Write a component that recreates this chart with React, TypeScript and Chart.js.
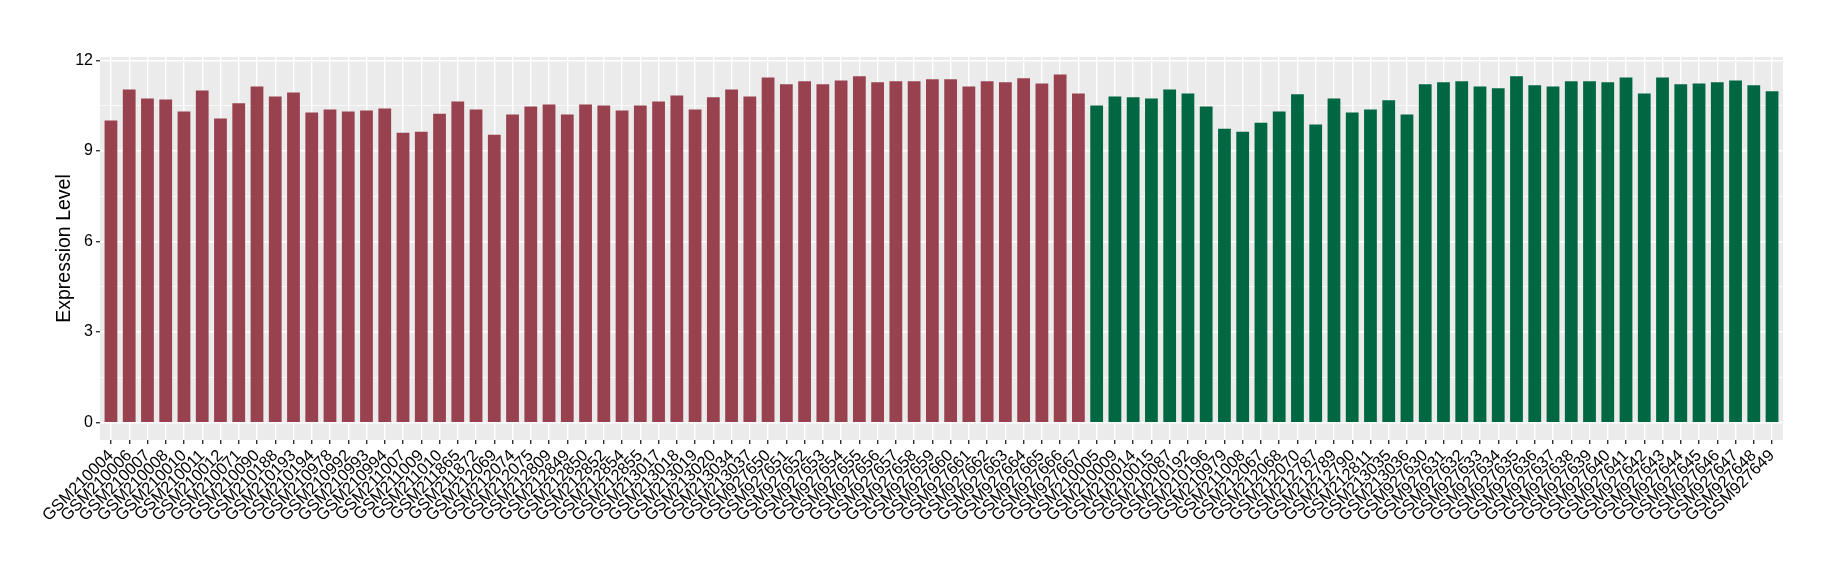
import React, { useEffect, useRef } from 'react';
import { Chart, registerables } from 'chart.js';

Chart.register(...registerables);

const groupASamples = [
  'GSM210004', 'GSM210006', 'GSM210007', 'GSM210008', 'GSM210010', 'GSM210011', 'GSM210012', 'GSM210071',
  'GSM210090', 'GSM210188', 'GSM210193', 'GSM210194', 'GSM210978', 'GSM210992', 'GSM210993', 'GSM210994',
  'GSM211007', 'GSM211009', 'GSM211010', 'GSM211865', 'GSM211872', 'GSM212069', 'GSM212074', 'GSM212075',
  'GSM212809', 'GSM212849', 'GSM212850', 'GSM212852', 'GSM212854', 'GSM212855', 'GSM213017', 'GSM213018',
  'GSM213019', 'GSM213020', 'GSM213034', 'GSM213037', 'GSM927650', 'GSM927651', 'GSM927652', 'GSM927653',
  'GSM927654', 'GSM927655', 'GSM927656', 'GSM927657', 'GSM927658', 'GSM927659', 'GSM927660', 'GSM927661',
  'GSM927662', 'GSM927663', 'GSM927664', 'GSM927665', 'GSM927666', 'GSM927667',
];

const groupAValues = [
  10.01, 11.04, 10.74, 10.71, 10.31, 11.01, 10.08, 10.58, 11.14, 10.81,
  10.94, 10.28, 10.38, 10.31, 10.34, 10.41, 9.61, 9.64, 10.24, 10.64,
  10.38, 9.54, 10.21, 10.48, 10.54, 10.21, 10.54, 10.51, 10.34, 10.51,
  10.64, 10.84, 10.38, 10.78, 11.04, 10.81, 11.44, 11.21, 11.31, 11.21,
  11.34, 11.48, 11.28, 11.31, 11.31, 11.38, 11.38, 11.14, 11.31, 11.28,
  11.41, 11.24, 11.54, 10.91,
];

const groupBSamples = [
  'GSM210005', 'GSM210009', 'GSM210014', 'GSM210015', 'GSM210087', 'GSM210192', 'GSM210196', 'GSM210979',
  'GSM211008', 'GSM212067', 'GSM212068', 'GSM212070', 'GSM212787', 'GSM212789', 'GSM212790', 'GSM212811',
  'GSM213035', 'GSM213036', 'GSM927630', 'GSM927631', 'GSM927632', 'GSM927633', 'GSM927634', 'GSM927635',
  'GSM927636', 'GSM927637', 'GSM927638', 'GSM927639', 'GSM927640', 'GSM927641', 'GSM927642', 'GSM927643',
  'GSM927644', 'GSM927645', 'GSM927646', 'GSM927647', 'GSM927648', 'GSM927649',
];

const groupBValues = [
  10.51, 10.81, 10.78, 10.74, 11.04, 10.91, 10.48, 9.74, 9.64, 9.94,
  10.31, 10.88, 9.88, 10.74, 10.28, 10.38, 10.68, 10.21, 11.21, 11.28,
  11.31, 11.14, 11.08, 11.48, 11.18, 11.14, 11.31, 11.31, 11.28, 11.44,
  10.91, 11.44, 11.21, 11.24, 11.28, 11.34, 11.18, 10.98,
];

const yTickValues = [0, 1.5, 3, 4.5, 6, 7.5, 9, 10.5, 12];
const yLabelStep = 3;

const COLOR_A = '#99424F';
const COLOR_B = '#006743';
const FONT = '"Liberation Sans", Arial, Helvetica, sans-serif';

export default function App() {
  const ref = useRef<HTMLCanvasElement>(null);

  useEffect(() => {
    if (!ref.current) return;
    const labels = [...groupASamples, ...groupBSamples];
    const values = [...groupAValues, ...groupBValues];
    const colors = [...groupASamples.map(() => COLOR_A), ...groupBSamples.map(() => COLOR_B)];
    const n = labels.length;
    const yMax = Math.max(...values);
    const yPad = yMax * 0.05;

    const panelBg = {
      id: 'panelBg',
      beforeDraw(c: any) {
        const { ctx, chartArea } = c;
        ctx.save();
        ctx.fillStyle = '#EBEBEB';
        ctx.fillRect(chartArea.left, chartArea.top, chartArea.right - chartArea.left, chartArea.bottom - chartArea.top);
        ctx.restore();
      },
    };

    const isMajor = (v: number) => Math.abs(v / yLabelStep - Math.round(v / yLabelStep)) < 1e-6;

    const chart = new Chart(ref.current, {
      type: 'bar',
      data: {
        datasets: [
          {
            data: values.map((v, i) => ({ x: i, y: v })),
            backgroundColor: colors,
            borderWidth: 0,
            barPercentage: 0.7,
            categoryPercentage: 1,
          },
        ],
      },
      options: {
        animation: false,
        responsive: false,
        layout: { padding: { top: 57, right: 57, left: 0, bottom: 0 } },
        plugins: { legend: { display: false }, tooltip: { enabled: false } },
        scales: {
          x: {
            type: 'linear',
            min: -0.6,
            max: n - 1 + 0.6,
            offset: false,
            afterBuildTicks: (s: any) => {
              s.ticks = labels.map((_, i) => ({ value: i }));
            },
            afterFit: (s: any) => {
              s.height = 140;
            },
            ticks: {
              autoSkip: false,
              maxRotation: 45,
              minRotation: 45,
              padding: 2,
              color: '#000',
              font: { family: FONT, size: 16.5 },
              callback: (v: any) => labels[Math.round(Number(v))],
            },
            grid: { color: '#FFFFFF', lineWidth: 1.4, tickColor: '#333333', tickLength: 4, offset: false },
            border: { display: false },
          },
          y: {
            type: 'linear',
            min: -yPad,
            max: yMax + yPad,
            afterBuildTicks: (s: any) => {
              s.ticks = yTickValues.map((v) => ({ value: v }));
            },
            afterFit: (s: any) => {
              s.width = 100;
            },
            ticks: {
              padding: 3,
              color: '#000',
              font: { family: FONT, size: 16 },
              callback: (v: any) => (isMajor(Number(v)) ? String(v) : ''),
            },
            grid: {
              color: '#FFFFFF',
              lineWidth: (ctx: any) => (ctx.tick && isMajor(ctx.tick.value) ? 1.4 : 0.7),
              tickColor: (ctx: any) => (ctx.tick && isMajor(ctx.tick.value) ? '#333333' : 'rgba(0,0,0,0)'),
              tickLength: 4,
            },
            border: { display: false },
            title: {
              display: true,
              text: 'Expression Level',
              color: '#000',
              font: { family: FONT, size: 19.5 },
              padding: { top: 53, bottom: 0 },
            },
          },
        },
      },
      plugins: [panelBg],
    } as any);

    return () => chart.destroy();
  }, []);

  return (
    <div style={{ position: 'absolute', left: 0, top: 0, width: 1840, height: 580, background: '#fff' }}>
      <canvas ref={ref} width={1840} height={580} style={{ display: 'block', width: 1840, height: 580 }} />
    </div>
  );
}
